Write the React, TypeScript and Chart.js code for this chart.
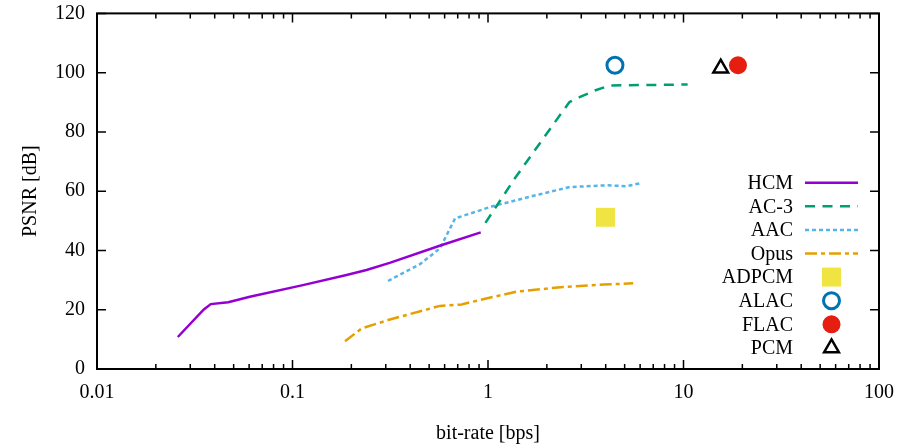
import { useEffect, useRef } from 'react';
import { Chart, registerables } from 'chart.js';

Chart.register(...registerables);

// ---- data ----
const hcmRate = [0.0259, 0.0352, 0.0382, 0.0469, 0.0605, 0.113, 0.189, 0.239, 0.314, 0.566, 0.918];
const hcmPsnr = [10.8, 20.1, 21.9, 22.5, 24.4, 28.3, 31.7, 33.4, 35.8, 41.6, 46.1];

const ac3Rate = [0.97, 1.37, 2.33, 2.61, 2.96, 3.52, 4.2, 10.5];
const ac3Psnr = [49.3, 64.3, 85.6, 90.1, 91.8, 94.0, 95.7, 96.0];

const aacRate = [0.308, 0.449, 0.568, 0.678, 1.065, 1.85, 2.62, 4.05, 5.1, 5.94];
const aacPsnr = [29.7, 35.4, 40.7, 50.8, 55.0, 59.0, 61.4, 62.0, 61.7, 62.6];

const opusRate = [0.1856, 0.226, 0.315, 0.568, 0.733, 0.91, 1.4, 2.43, 3.89, 5.53];
const opusPsnr = [9.4, 13.7, 16.7, 21.3, 21.8, 23.3, 26.1, 27.7, 28.5, 28.9];

const adpcmRate = [3.99];
const adpcmPsnr = [51.2];
const alacRate = [4.46];
const alacPsnr = [102.5];
const flacRate = [19.0];
const flacPsnr = [102.5];
const pcmRate = [15.5];
const pcmPsnr = [101.5];

const xTickValues = [0.01, 0.1, 1, 10, 100];
const xTickLabels = ['0.01', '0.1', '1', '10', '100'];
const xMinorMultipliers = [2, 3, 4, 5, 6, 7, 8, 9];
const yTickValues = [0, 20, 40, 60, 80, 100, 120];
const yTickLabels = ['0', '20', '40', '60', '80', '100', '120'];

const FONT = 'Liberation Serif';
const FS = 20;

const pts = (xs: number[], ys: number[]) => xs.map((x, i) => ({ x, y: ys[i] }));

function drawMarker(ctx: CanvasRenderingContext2D, ds: any, x: number, y: number) {
  const r = ds.pointRadius;
  ctx.save();
  ctx.beginPath();
  if (ds.pointStyle === 'rect') {
    const s = Math.SQRT1_2 * r;
    ctx.rect(x - s, y - s, 2 * s, 2 * s);
  } else if (ds.pointStyle === 'triangle') {
    for (let k = 0; k < 3; k++) {
      const a = (k * 2 * Math.PI) / 3;
      const px = x + Math.sin(a) * r;
      const py = y - Math.cos(a) * r;
      if (k === 0) ctx.moveTo(px, py);
      else ctx.lineTo(px, py);
    }
    ctx.closePath();
  } else {
    ctx.arc(x, y, r, 0, Math.PI * 2);
  }
  if (ds.backgroundColor && ds.backgroundColor !== 'transparent') {
    ctx.fillStyle = ds.backgroundColor;
    ctx.fill();
  }
  if (ds.borderWidth > 0) {
    ctx.lineWidth = ds.borderWidth;
    ctx.strokeStyle = ds.borderColor;
    ctx.stroke();
  }
  ctx.restore();
}

const frameTicksPlugin = {
  id: 'frameTicks',
  afterDatasetsDraw(chart: any) {
    const { ctx, chartArea } = chart;
    const { left, right, top, bottom } = chartArea;
    const xs = chart.scales.x;
    const ys = chart.scales.y;
    ctx.save();
    ctx.strokeStyle = '#000';
    ctx.lineWidth = 1.5;
    const major = 9;
    const minor = 5;
    ctx.beginPath();
    xTickValues.forEach((v, i) => {
      const px = xs.getPixelForValue(v);
      ctx.moveTo(px, bottom);
      ctx.lineTo(px, bottom - major);
      ctx.moveTo(px, top);
      ctx.lineTo(px, top + major);
      if (i < xTickValues.length - 1) {
        xMinorMultipliers.forEach((m) => {
          const p = xs.getPixelForValue(v * m);
          ctx.moveTo(p, bottom);
          ctx.lineTo(p, bottom - minor);
          ctx.moveTo(p, top);
          ctx.lineTo(p, top + minor);
        });
      }
    });
    yTickValues.forEach((v) => {
      const py = ys.getPixelForValue(v);
      ctx.moveTo(left, py);
      ctx.lineTo(left + major, py);
      ctx.moveTo(right, py);
      ctx.lineTo(right - major, py);
    });
    ctx.stroke();
    ctx.lineWidth = 2;
    ctx.strokeRect(left, top, right - left, bottom - top);
    ctx.restore();
  },
};

const legendPlugin = {
  id: 'customLegend',
  afterDraw(chart: any) {
    const { ctx } = chart;
    const textRight = 793;
    const sampleLeft = 805;
    const sampleRight = 858;
    const rowTop = 182.7;
    const rowGap = 23.6;
    ctx.save();
    ctx.font = `${FS}px "${FONT}"`;
    ctx.textAlign = 'right';
    ctx.textBaseline = 'middle';
    chart.data.datasets.forEach((ds: any, i: number) => {
      const y = rowTop + i * rowGap;
      ctx.fillStyle = '#000';
      ctx.fillText(ds.label, textRight, y + 1);
      if (ds.showLine) {
        ctx.save();
        ctx.strokeStyle = ds.borderColor;
        ctx.lineWidth = ds.borderWidth;
        ctx.setLineDash(ds.borderDash || []);
        ctx.beginPath();
        ctx.moveTo(sampleLeft, y);
        ctx.lineTo(sampleRight, y);
        ctx.stroke();
        ctx.restore();
      } else {
        drawMarker(ctx, ds, (sampleLeft + sampleRight) / 2, y);
      }
    });
    ctx.restore();
  },
};

export default function App() {
  const ref = useRef<HTMLCanvasElement | null>(null);

  useEffect(() => {
    document.body.style.margin = '0';
    if (!ref.current) return;
    const lineDs = (label: string, xs: number[], ys: number[], color: string, dash: number[]) => ({
      label,
      data: pts(xs, ys),
      showLine: true,
      borderColor: color,
      backgroundColor: color,
      borderWidth: 2.5,
      borderDash: dash,
      borderCapStyle: 'butt',
      pointRadius: 0,
      pointHoverRadius: 0,
      tension: 0,
    });
    const pointDs = (label: string, xs: number[], ys: number[], style: string, r: number, fill: string, stroke: string, bw: number) => ({
      label,
      data: pts(xs, ys),
      showLine: false,
      pointStyle: style,
      pointRadius: r,
      pointHoverRadius: r,
      backgroundColor: fill,
      borderColor: stroke,
      borderWidth: bw,
      pointBackgroundColor: fill,
      pointBorderColor: stroke,
      pointBorderWidth: bw,
      clip: false,
    });

    const chart = new Chart(ref.current, {
      type: 'scatter',
      data: {
        datasets: [
          lineDs('HCM', hcmRate, hcmPsnr, '#9400d3', []),
          lineDs('AC-3', ac3Rate, ac3Psnr, '#009e73', [10, 7.5]),
          lineDs('AAC', aacRate, aacPsnr, '#56b4e9', [4, 3]),
          lineDs('Opus', opusRate, opusPsnr, '#e69f00', [12, 4, 4, 4]),
          pointDs('ADPCM', adpcmRate, adpcmPsnr, 'rect', 13.4, '#f0e442', '#f0e442', 0),
          pointDs('ALAC', alacRate, alacPsnr, 'circle', 8, 'transparent', '#0072b2', 3),
          pointDs('FLAC', flacRate, flacPsnr, 'circle', 9, '#e51e10', '#e51e10', 0),
          pointDs('PCM', pcmRate, pcmPsnr, 'triangle', 8.5, 'transparent', '#000000', 2.5),
        ] as any,
      },
      options: {
        responsive: false,
        animation: false,
        events: [],
        layout: { padding: { left: 0, right: 21, top: 13, bottom: 0 } },
        plugins: {
          legend: { display: false },
          tooltip: { enabled: false },
        },
        scales: {
          x: {
            type: 'logarithmic',
            min: 0.01,
            max: 100,
            grid: { display: false, drawTicks: false },
            border: { display: false },
            afterBuildTicks: (s: any) => {
              s.ticks = xTickValues.map((v) => ({ value: v }));
            },
            afterFit: (s: any) => {
              s.height = 79;
              s.paddingLeft = 0;
              s.paddingRight = 0;
            },
            ticks: {
              autoSkip: false,
              maxRotation: 0,
              padding: 12,
              color: '#000',
              font: { family: FONT, size: FS },
              callback: (v: any) => {
                const i = xTickValues.indexOf(Number(v));
                return i >= 0 ? xTickLabels[i] : '';
              },
            },
            title: {
              display: true,
              text: 'bit-rate [bps]',
              color: '#000',
              font: { family: FONT, size: FS },
              padding: { top: 0, bottom: 2 },
            },
          },
          y: {
            type: 'linear',
            min: 0,
            max: 120,
            grid: { display: false, drawTicks: false },
            border: { display: false },
            afterBuildTicks: (s: any) => {
              s.ticks = yTickValues.map((v) => ({ value: v }));
            },
            afterFit: (s: any) => {
              s.width = 97;
              s.paddingTop = 0;
              s.paddingBottom = 0;
            },
            ticks: {
              autoSkip: false,
              padding: 12,
              color: '#000',
              font: { family: FONT, size: FS },
              callback: (v: any) => {
                const i = yTickValues.indexOf(Number(v));
                return i >= 0 ? yTickLabels[i] : '';
              },
            },
            title: {
              display: true,
              text: 'PSNR [dB]',
              color: '#000',
              font: { family: FONT, size: FS },
              padding: { top: 19, bottom: 0 },
            },
          },
        },
      } as any,
      plugins: [frameTicksPlugin, legendPlugin],
    });
    return () => chart.destroy();
  }, []);

  return (
    <div style={{ width: 900, height: 448 }}>
      <canvas ref={ref} width={900} height={448} style={{ display: 'block' }} />
    </div>
  );
}
